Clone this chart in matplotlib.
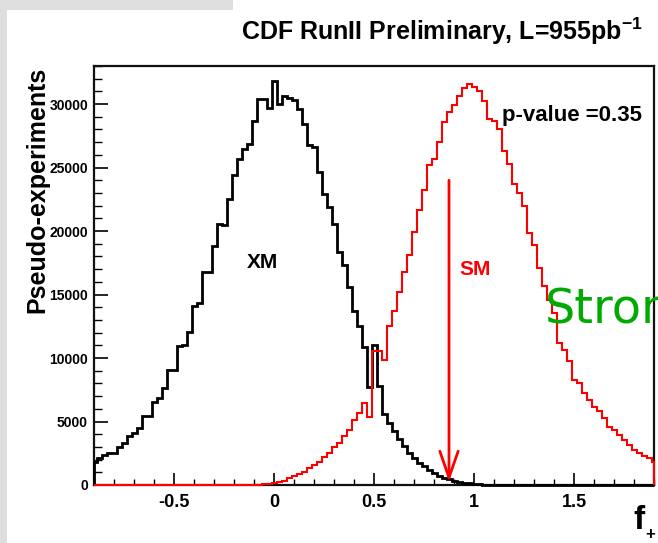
import matplotlib
matplotlib.use("Agg")
import matplotlib.pyplot as plt
import numpy as np
from matplotlib import font_manager
from matplotlib.patches import Rectangle

# ---------------- data ----------------
f_min, f_max = -0.9, 1.9
bin_width = 0.025
bin_centers = np.round(np.arange(f_min, f_max + bin_width / 2, bin_width), 4)

xm_counts = [1840, 2100, 2370, 2500, 2500, 3030, 3290, 3870, 4080, 4480,
             5400, 5400, 6500, 6840, 7630, 9080, 9080, 10920, 11050, 12020,
             14080, 14340, 16760, 16760, 18810, 20520, 20440, 22500, 24390, 25700,
             26500, 26840, 28680, 30390, 30390, 29730, 31830, 29990, 30600, 30500,
             30320, 29650, 28470, 26760, 26630, 24650, 22940, 21890, 20570, 18340,
             17290, 15580, 13740, 12550, 10840, 7680, 11020, 7810, 5580, 4920,
             4260, 3610, 3080, 2500, 2100, 1740, 1470, 1160, 950, 740,
             550, 470, 340, 260, 180, 120, 80, 50, 30, 20,
             10, 6, 4, 3, 2, 1, 1, 0, 0, 0,
             0, 0, 0, 0, 0, 0, 0, 0, 0, 0,
             0, 0, 0, 0, 0, 0, 0, 0, 0, 0,
             0, 0, 0]

sm_counts = [0, 0, 0, 0, 0, 0, 0, 0, 0, 0,
             0, 0, 0, 0, 0, 0, 0, 0, 0, 0,
             0, 0, 0, 0, 0, 0, 0, 0, 0, 0,
             0, 0, 0, 20, 60, 110, 180, 260, 340, 530,
             710, 870, 1050, 1320, 1580, 1840, 2180, 2500, 2970, 3290,
             3870, 4340, 5100, 5660, 6470, 5390, 10520, 10520, 9870, 12550,
             13740, 15190, 16760, 18080, 19920, 21630, 23210, 25180, 25700, 27020,
             28600, 29390, 29910, 30600, 31230, 31570, 31310, 31050, 30260, 28810,
             28680, 28020, 26310, 25260, 23680, 23020, 21970, 19860, 18940, 17100,
             15650, 14600, 13550, 11180, 10650, 9730, 8280, 8020, 7230, 6710,
             6180, 5790, 5260, 4600, 4340, 3950, 3550, 3160, 2760, 2500,
             2290, 2100, 1840]

observed_f = 0.875
arrow_top = 24000
y_max = 33000

title = "CDF RunII Preliminary, L=955pb$^{-1}$"
ylabel = "Pseudo-experiments"
pvalue_text = "p-value =0.35"

# ---------------- fonts ----------------
names = {f.name for f in font_manager.fontManager.ttflist}
narrow = "Liberation Sans Narrow" in names
base = "Liberation Sans"
title_family = "Liberation Sans Narrow" if narrow else base
title_size = 21.5 if narrow else 18

plt.rcParams["font.family"] = [base, "DejaVu Sans"]
plt.rcParams["font.weight"] = "bold"
plt.rcParams["mathtext.fontset"] = "custom"
plt.rcParams["mathtext.rm"] = title_family + ":bold"
plt.rcParams["mathtext.it"] = title_family + ":bold"
plt.rcParams["mathtext.bf"] = title_family + ":bold"
plt.rcParams["mathtext.default"] = "rm"

W, H = 658, 543
fig = plt.figure(figsize=(W / 100, H / 100), dpi=100)
fig.patch.set_facecolor("white")

# slide background strips
fig.add_artist(Rectangle((0, 1 - 10 / H), 233 / W, 10 / H, transform=fig.transFigure,
                         facecolor="#dedede", edgecolor="none", zorder=0))
fig.add_artist(Rectangle((0, 0), 7 / W, 1, transform=fig.transFigure,
                         facecolor="#dedede", edgecolor="none", zorder=0))

ax = fig.add_axes([94 / W, 58 / H, 560 / W, 419 / H])

edges = np.concatenate([bin_centers - bin_width / 2, [bin_centers[-1] + bin_width / 2]])
edges = np.clip(edges, f_min, f_max)

ax.stairs(xm_counts, edges, color="black", linewidth=2.0, zorder=3, clip_on=False)
ax.stairs(sm_counts, edges, color="#ff0000", linewidth=1.5, zorder=4, clip_on=False)

ax.annotate("", xy=(observed_f, 250), xytext=(observed_f, arrow_top),
            arrowprops=dict(arrowstyle="->,head_length=0.95,head_width=0.33",
                            color="#ff0000", lw=2.0, mutation_scale=20,
                            shrinkA=0, shrinkB=0), zorder=5)

ax.set_xlim(f_min, f_max)
ax.set_ylim(0, y_max)
ax.set_xticks([-0.5, 0, 0.5, 1, 1.5])
ax.set_xticklabels(["-0.5", "0", "0.5", "1", "1.5"])
ax.set_xticks(np.round(np.arange(-0.9, 1.91, 0.1), 2), minor=True)
ax.set_yticks(np.arange(0, 30001, 5000))
ax.set_yticks(np.arange(0, 33001, 1000), minor=True)

ax.tick_params(axis="both", which="both", direction="in", top=False, right=False)
ax.tick_params(axis="y", which="major", length=10, width=1.2, pad=4.3, labelsize=10)
ax.tick_params(axis="y", which="minor", length=5.5, width=1.0)
ax.tick_params(axis="x", which="major", length=8.5, width=1.2, pad=6.5, labelsize=13)
ax.tick_params(axis="x", which="minor", length=4.5, width=1.0)
for lab in ax.get_xticklabels() + ax.get_yticklabels():
    lab.set_fontweight("bold")
for s in ax.spines.values():
    s.set_linewidth(1.6)
    s.set_color("#111111")

ax.text(-0.06, 17500, "XM", ha="center", va="center", fontsize=15,
        fontweight="bold", color="black")
ax.text(1.005, 16970, "SM", ha="center", va="center", fontsize=15,
        fontweight="bold", color="#ff0000")
ax.text(1.14, 29100, pvalue_text, ha="left", va="center", fontsize=16,
        fontweight="bold", color="black")

fig.text(241 / W, 1 - 40 / H, title, ha="left", va="baseline",
         fontsize=title_size, fontweight="bold", family=[title_family, "DejaVu Sans"])
fig.text(37 / W, 1 - 190 / H, ylabel, rotation=90, ha="center", va="center",
         fontsize=18, fontweight="bold")
fig.text(633 / W, 1 - 529 / H, "f", ha="left", va="baseline",
         fontsize=24, fontweight="bold")
fig.text(645 / W, 1 - 539 / H, "+", ha="left", va="baseline",
         fontsize=12, fontweight="bold")
fig.text(545 / W, 1 - 323 / H, "Stron", ha="left", va="baseline",
         fontsize=34.5, fontweight="normal", color="#00aa00", family="DejaVu Sans")

fig.savefig("out.png", dpi=100)
